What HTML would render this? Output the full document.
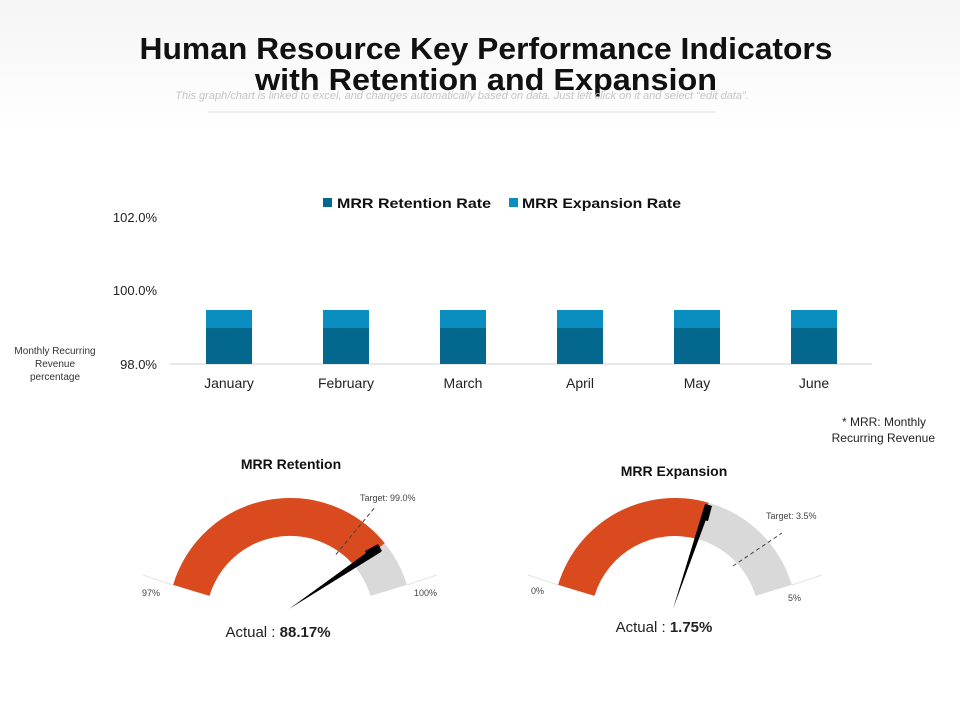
<!DOCTYPE html>
<html><head><meta charset="utf-8"><style>
body{margin:0;background:#fff;}
svg{display:block;font-family:"Liberation Sans",sans-serif;}
</style></head><body>
<svg width="960" height="720" viewBox="0 0 960 720" xmlns="http://www.w3.org/2000/svg">
<defs><linearGradient id="bg" x1="0" y1="0" x2="0" y2="1"><stop offset="0" stop-color="#eeeeee"/><stop offset="1" stop-color="#ffffff"/></linearGradient></defs>
<rect width="960" height="130" fill="url(#bg)" opacity="0.6"/>
<text x="486" y="59" text-anchor="middle" font-size="31" font-weight="bold" fill="#111" textLength="693" lengthAdjust="spacingAndGlyphs">Human Resource Key Performance Indicators</text>
<text x="486" y="90" text-anchor="middle" font-size="31" font-weight="bold" fill="#111" textLength="462" lengthAdjust="spacingAndGlyphs">with Retention and Expansion</text>
<text x="462" y="99" text-anchor="middle" font-size="11" font-style="italic" fill="#c4c4c4">This graph/chart is linked to excel, and changes automatically based on data. Just left click on it and select “edit data”.</text>
<line x1="208" y1="112" x2="716" y2="112" stroke="#ddd"/>
<!-- legend -->
<rect x="323" y="198" width="9" height="9" fill="#04678d"/>
<text x="337" y="208" font-size="14" font-weight="bold" fill="#111" textLength="154" lengthAdjust="spacingAndGlyphs">MRR Retention Rate</text>
<rect x="509" y="198" width="9" height="9" fill="#0a8dbf"/>
<text x="522" y="208" font-size="14" font-weight="bold" fill="#111" textLength="159" lengthAdjust="spacingAndGlyphs">MRR Expansion Rate</text>
<!-- axis -->
<g font-size="13" fill="#222" text-anchor="end">
<text x="157" y="222">102.0%</text><text x="157" y="295">100.0%</text><text x="157" y="369">98.0%</text></g>
<g font-size="10" fill="#333" text-anchor="middle">
<text x="55" y="354">Monthly Recurring</text><text x="55" y="367">Revenue</text><text x="55" y="380">percentage</text></g>
<line x1="170" y1="364" x2="872" y2="364" stroke="#d0d0d0"/>
<g>
<rect x="206" y="310" width="46" height="18" fill="#0a8dbf"/><rect x="206" y="328" width="46" height="36" fill="#04678d"/>
<rect x="323" y="310" width="46" height="18" fill="#0a8dbf"/><rect x="323" y="328" width="46" height="36" fill="#04678d"/>
<rect x="440" y="310" width="46" height="18" fill="#0a8dbf"/><rect x="440" y="328" width="46" height="36" fill="#04678d"/>
<rect x="557" y="310" width="46" height="18" fill="#0a8dbf"/><rect x="557" y="328" width="46" height="36" fill="#04678d"/>
<rect x="674" y="310" width="46" height="18" fill="#0a8dbf"/><rect x="674" y="328" width="46" height="36" fill="#04678d"/>
<rect x="791" y="310" width="46" height="18" fill="#0a8dbf"/><rect x="791" y="328" width="46" height="36" fill="#04678d"/>
</g>
<g font-size="14" fill="#222" text-anchor="middle">
<text x="229" y="388">January</text><text x="346" y="388">February</text><text x="463" y="388">March</text>
<text x="580" y="388">April</text><text x="697" y="388">May</text><text x="814" y="388">June</text></g>
<g font-size="12" fill="#222" text-anchor="end">
<text x="926" y="426">* MRR: Monthly</text><text x="935" y="442">Recurring Revenue</text></g>
<!-- gauge 1 -->
<text x="291" y="469" text-anchor="middle" font-size="14" font-weight="bold" fill="#111">MRR Retention</text>
<line x1="173" y1="585" x2="143" y2="575" stroke="#e4e4e4"/>
<line x1="407" y1="585" x2="437" y2="575" stroke="#e4e4e4"/>
<path d="M173.1,584.9 A122,122 0 0 1 384.8,543.2 L355.3,567.1 A84,84 0 0 0 209.5,595.9 Z" fill="#d94a1e"/>
<path d="M384.8,543.2 A122,122 0 0 1 406.9,584.9 L370.5,595.9 A84,84 0 0 0 355.3,567.1 Z" fill="#d9d9d9"/>
<line x1="335.9" y1="554.5" x2="376" y2="506" stroke="#444" stroke-dasharray="4,3"/>
<polygon points="289,609 377,545 381,552" fill="#000"/>
<polygon points="365,551 378,544 382,551 368,558" fill="#000"/>
<g font-size="9" fill="#444"><text x="142" y="596">97%</text><text x="414" y="596">100%</text><text x="360" y="501">Target: 99.0%</text></g>
<text x="278" y="637" text-anchor="middle" font-size="15" fill="#222">Actual : <tspan font-weight="bold">88.17%</tspan></text>
<!-- gauge 2 -->
<text x="674" y="476" text-anchor="middle" font-size="14" font-weight="bold" fill="#111">MRR Expansion</text>
<line x1="558" y1="585" x2="528" y2="575" stroke="#e4e4e4"/>
<line x1="792" y1="585" x2="822" y2="575" stroke="#e4e4e4"/>
<path d="M558.1,584.9 A122,122 0 0 1 708.6,502.7 L698.2,539.3 A84,84 0 0 0 594.5,595.9 Z" fill="#d94a1e"/>
<path d="M708.6,502.7 A122,122 0 0 1 791.9,584.9 L755.5,595.9 A84,84 0 0 0 698.2,539.3 Z" fill="#d9d9d9"/>
<line x1="733" y1="566" x2="782" y2="533" stroke="#444" stroke-dasharray="4,3"/>
<polygon points="673,609 705,504 711,506" fill="#000"/>
<polygon points="703,520 706,504 712,506 708,521" fill="#000"/>
<g font-size="9" fill="#444"><text x="531" y="594">0%</text><text x="788" y="601">5%</text><text x="766" y="519">Target: 3.5%</text></g>
<text x="664" y="632" text-anchor="middle" font-size="15" fill="#222">Actual : <tspan font-weight="bold">1.75%</tspan></text>
</svg>
</body></html>
